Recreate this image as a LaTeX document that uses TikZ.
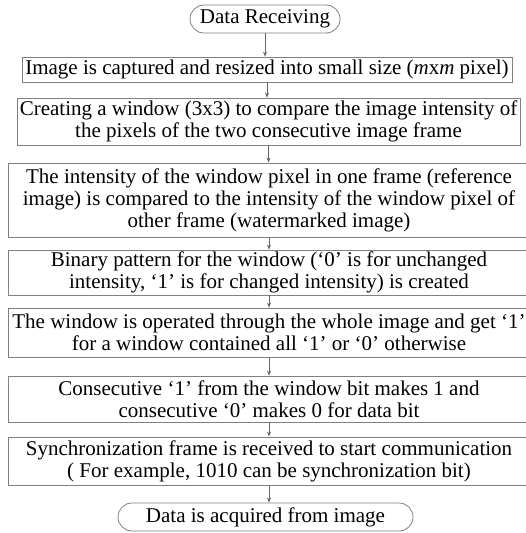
\documentclass[tikz,border=0pt]{standalone}
\usepackage{fontspec}
\setmainfont{Liberation Serif}
\usetikzlibrary{arrows.meta}

\tikzset{
  procbox/.style={draw=gray, line width=0.8pt, align=center, inner sep=0pt,
    font=\fontsize{21}{22}\selectfont},
  termbox/.style={procbox, rounded corners=14pt, minimum height=28pt},
  flow/.style={draw=gray!80!black, line width=0.7pt, -{Stealth[length=5pt,width=4pt]}}
}

\begin{document}
\begin{tikzpicture}[x=1pt,y=-1pt]
        \useasboundingbox (0,0) rectangle (526,533);
        \node[termbox, minimum width=150pt] (recv) at (265,19) {Data Receiving};
        \node[procbox, minimum width=490pt, minimum height=25pt] (capture) at (267,69.5)
            {Image is captured and resized into small size (\textit{m}x\textit{m} pixel)};
        \node[procbox, minimum width=503pt, minimum height=47pt] (window) at (268.5,121.5)
            {Creating a window (3x3) to compare the image intensity of\\the pixels of the two consecutive image frame};
        \node[procbox, minimum width=522pt, minimum height=74pt] (compare) at (269,200)
            {The intensity of the window pixel in one frame (reference\\image) is compared to the intensity of the window pixel of\\other frame (watermarked image)};
        \node[procbox, minimum width=522pt, minimum height=45pt] (pattern) at (269,272.5)
            {Binary pattern for the window (`0' is for unchanged\\intensity, `1' is for changed intensity) is created};
        \node[procbox, minimum width=522pt, minimum height=49pt] (operate) at (269,332.5)
            {The window is operated through the whole image and get `1'\\for a window contained all `1' or `0' otherwise};
        \node[procbox, minimum width=522pt, minimum height=46pt] (databit) at (269,399)
            {Consecutive `1' from the window bit makes 1 and\\consecutive `0' makes 0 for data bit};
        \node[procbox, minimum width=522pt, minimum height=48pt] (sync) at (269,461)
            {Synchronization frame is received to start communication\\( For example, 1010 can be synchronization bit)};
        \node[termbox, minimum width=295pt] (acquire) at (265.5,517) {Data is acquired from image};

        \foreach \a/\b in {recv/capture, capture/window, window/compare, compare/pattern,
                           pattern/operate, operate/databit, databit/sync, sync/acquire}
            \draw[flow] (\a.south) -- (\a.south |- \b.north);
\end{tikzpicture}
\end{document}
